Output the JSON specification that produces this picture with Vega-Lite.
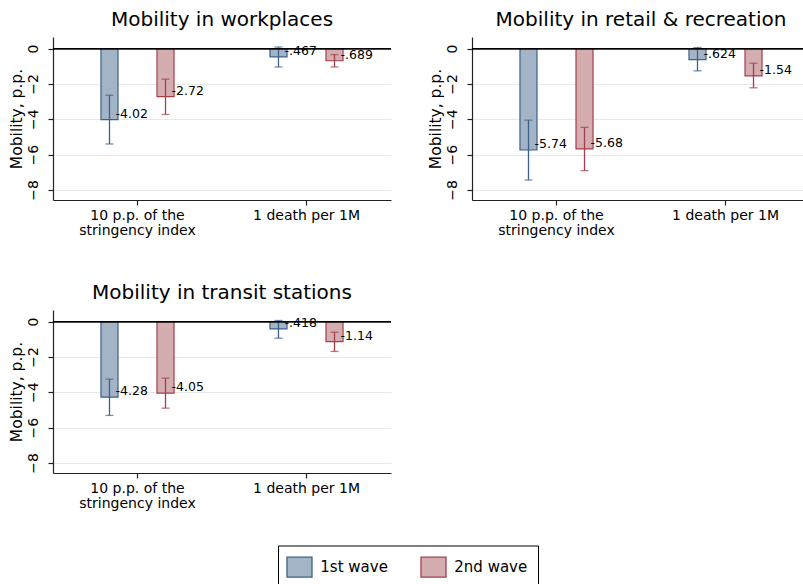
{
  "$schema": "https://vega.github.io/schema/vega-lite/v6.json",
  "background": "white",
  "padding": {"left": 9, "top": 10, "right": 0, "bottom": 0},
  "datasets": {
    "d": [
      {"panel": "workplaces", "factor": "10 p.p. of the stringency index", "wave": "1st wave", "value": -4.02, "lo": -5.40, "hi": -2.64, "label": "-4.02"},
      {"panel": "workplaces", "factor": "10 p.p. of the stringency index", "wave": "2nd wave", "value": -2.72, "lo": -3.73, "hi": -1.73, "label": "-2.72"},
      {"panel": "workplaces", "factor": "1 death per 1M", "wave": "1st wave", "value": -0.467, "lo": -1.04, "hi": 0.09, "label": "-.467"},
      {"panel": "workplaces", "factor": "1 death per 1M", "wave": "2nd wave", "value": -0.689, "lo": -1.04, "hi": -0.34, "label": "-.689"},
      {"panel": "retail", "factor": "10 p.p. of the stringency index", "wave": "1st wave", "value": -5.74, "lo": -7.44, "hi": -4.05, "label": "-5.74"},
      {"panel": "retail", "factor": "10 p.p. of the stringency index", "wave": "2nd wave", "value": -5.68, "lo": -6.91, "hi": -4.46, "label": "-5.68"},
      {"panel": "retail", "factor": "1 death per 1M", "wave": "1st wave", "value": -0.624, "lo": -1.26, "hi": 0.06, "label": "-.624"},
      {"panel": "retail", "factor": "1 death per 1M", "wave": "2nd wave", "value": -1.54, "lo": -2.22, "hi": -0.83, "label": "-1.54"},
      {"panel": "transit", "factor": "10 p.p. of the stringency index", "wave": "1st wave", "value": -4.28, "lo": -5.31, "hi": -3.26, "label": "-4.28"},
      {"panel": "transit", "factor": "10 p.p. of the stringency index", "wave": "2nd wave", "value": -4.05, "lo": -4.90, "hi": -3.20, "label": "-4.05"},
      {"panel": "transit", "factor": "1 death per 1M", "wave": "1st wave", "value": -0.418, "lo": -0.94, "hi": 0.06, "label": "-.418"},
      {"panel": "transit", "factor": "1 death per 1M", "wave": "2nd wave", "value": -1.14, "lo": -1.69, "hi": -0.60, "label": "-1.14"}
    ]
  },
  "columns": 2,
  "spacing": {"row": 110, "column": 81},
  "bounds": "flush",
  "concat": [
    {
      "title": "Mobility in workplaces",
      "width": 338, "height": 163,
      "data": {"name": "d"},
      "transform": [{"filter": "datum.panel == 'workplaces'"}],
      "layer": [
        {"mark": {"type": "bar", "strokeWidth": 1.2},
         "encoding": {
           "x": {"field": "factor", "type": "nominal", "title": null, "sort": ["10 p.p. of the stringency index", "1 death per 1M"], "scale": {"paddingInner": 0.337, "paddingOuter": 0.1685}},
           "xOffset": {"field": "wave", "type": "nominal", "scale": {"paddingInner": 0.696, "paddingOuter": 0.348}},
           "y": {"field": "value", "type": "quantitative", "title": "Mobility, p.p.", "scale": {"domain": [-8.57, 0.655], "nice": false, "zero": false}},
           "y2": {"datum": 0},
           "fill": {"field": "wave", "type": "nominal", "scale": {"domain": ["1st wave", "2nd wave"], "range": ["#a4b4c7", "#d4adb1"]}, "legend": {"title": null}},
           "stroke": {"field": "wave", "type": "nominal", "scale": {"domain": ["1st wave", "2nd wave"], "range": ["#3b6189", "#a23f49"]}, "legend": {"title": null}}
         }},
        {"mark": {"type": "rule", "strokeWidth": 1.3},
         "encoding": {
           "x": {"field": "factor", "type": "nominal", "title": null, "sort": ["10 p.p. of the stringency index", "1 death per 1M"]},
           "xOffset": {"field": "wave", "type": "nominal"},
           "y": {"field": "lo", "type": "quantitative", "title": "Mobility, p.p."},
           "y2": {"field": "hi"},
           "stroke": {"field": "wave", "type": "nominal", "legend": {"title": null}}
         }},
        {"mark": {"type": "tick", "size": 8, "thickness": 1.3},
         "encoding": {
           "x": {"field": "factor", "type": "nominal", "title": null, "sort": ["10 p.p. of the stringency index", "1 death per 1M"]},
           "xOffset": {"field": "wave", "type": "nominal"},
           "y": {"field": "lo", "type": "quantitative", "title": "Mobility, p.p."},
           "color": {"field": "wave", "type": "nominal", "scale": {"domain": ["1st wave", "2nd wave"], "range": ["#3b6189", "#a23f49"]}, "legend": null}
         }},
        {"mark": {"type": "tick", "size": 8, "thickness": 1.3},
         "encoding": {
           "x": {"field": "factor", "type": "nominal", "title": null, "sort": ["10 p.p. of the stringency index", "1 death per 1M"]},
           "xOffset": {"field": "wave", "type": "nominal"},
           "y": {"field": "hi", "type": "quantitative", "title": "Mobility, p.p."},
           "color": {"field": "wave", "type": "nominal", "legend": null}
         }},
        {"mark": {"type": "text", "align": "left", "baseline": "middle", "dx": 6, "dy": -6, "fontSize": 12.5, "font": "DejaVu Sans", "color": "black"},
         "encoding": {
           "x": {"field": "factor", "type": "nominal", "title": null, "sort": ["10 p.p. of the stringency index", "1 death per 1M"]},
           "xOffset": {"field": "wave", "type": "nominal"},
           "y": {"field": "value", "type": "quantitative", "title": "Mobility, p.p."},
           "text": {"field": "label"}
         }},
        {"mark": {"type": "rule", "color": "black", "strokeWidth": 1.3},
         "encoding": {"y": {"datum": 0, "type": "quantitative", "title": "Mobility, p.p."}}}
      ]
    },
    {
      "title": "Mobility in retail & recreation",
      "width": 338, "height": 163,
      "data": {"name": "d"},
      "transform": [{"filter": "datum.panel == 'retail'"}],
      "layer": [
        {"mark": {"type": "bar", "strokeWidth": 1.2},
         "encoding": {
           "x": {"field": "factor", "type": "nominal", "title": null, "sort": ["10 p.p. of the stringency index", "1 death per 1M"], "scale": {"paddingInner": 0.337, "paddingOuter": 0.1685}},
           "xOffset": {"field": "wave", "type": "nominal", "scale": {"paddingInner": 0.696, "paddingOuter": 0.348}},
           "y": {"field": "value", "type": "quantitative", "title": "Mobility, p.p.", "scale": {"domain": [-8.57, 0.655], "nice": false, "zero": false}},
           "y2": {"datum": 0},
           "fill": {"field": "wave", "type": "nominal", "legend": {"title": null}},
           "stroke": {"field": "wave", "type": "nominal", "legend": {"title": null}}
         }},
        {"mark": {"type": "rule", "strokeWidth": 1.3},
         "encoding": {
           "x": {"field": "factor", "type": "nominal", "title": null, "sort": ["10 p.p. of the stringency index", "1 death per 1M"]},
           "xOffset": {"field": "wave", "type": "nominal"},
           "y": {"field": "lo", "type": "quantitative", "title": "Mobility, p.p."},
           "y2": {"field": "hi"},
           "stroke": {"field": "wave", "type": "nominal", "legend": {"title": null}}
         }},
        {"mark": {"type": "tick", "size": 8, "thickness": 1.3},
         "encoding": {
           "x": {"field": "factor", "type": "nominal", "title": null, "sort": ["10 p.p. of the stringency index", "1 death per 1M"]},
           "xOffset": {"field": "wave", "type": "nominal"},
           "y": {"field": "lo", "type": "quantitative", "title": "Mobility, p.p."},
           "color": {"field": "wave", "type": "nominal", "legend": null}
         }},
        {"mark": {"type": "tick", "size": 8, "thickness": 1.3},
         "encoding": {
           "x": {"field": "factor", "type": "nominal", "title": null, "sort": ["10 p.p. of the stringency index", "1 death per 1M"]},
           "xOffset": {"field": "wave", "type": "nominal"},
           "y": {"field": "hi", "type": "quantitative", "title": "Mobility, p.p."},
           "color": {"field": "wave", "type": "nominal", "legend": null}
         }},
        {"mark": {"type": "text", "align": "left", "baseline": "middle", "dx": 6, "dy": -6, "fontSize": 12.5, "font": "DejaVu Sans", "color": "black"},
         "encoding": {
           "x": {"field": "factor", "type": "nominal", "title": null, "sort": ["10 p.p. of the stringency index", "1 death per 1M"]},
           "xOffset": {"field": "wave", "type": "nominal"},
           "y": {"field": "value", "type": "quantitative", "title": "Mobility, p.p."},
           "text": {"field": "label"}
         }},
        {"mark": {"type": "rule", "color": "black", "strokeWidth": 1.3},
         "encoding": {"y": {"datum": 0, "type": "quantitative", "title": "Mobility, p.p."}}}
      ]
    },
    {
      "title": "Mobility in transit stations",
      "width": 338, "height": 163,
      "data": {"name": "d"},
      "transform": [{"filter": "datum.panel == 'transit'"}],
      "layer": [
        {"mark": {"type": "bar", "strokeWidth": 1.2},
         "encoding": {
           "x": {"field": "factor", "type": "nominal", "title": null, "sort": ["10 p.p. of the stringency index", "1 death per 1M"], "scale": {"paddingInner": 0.337, "paddingOuter": 0.1685}},
           "xOffset": {"field": "wave", "type": "nominal", "scale": {"paddingInner": 0.696, "paddingOuter": 0.348}},
           "y": {"field": "value", "type": "quantitative", "title": "Mobility, p.p.", "scale": {"domain": [-8.57, 0.655], "nice": false, "zero": false}},
           "y2": {"datum": 0},
           "fill": {"field": "wave", "type": "nominal", "legend": {"title": null}},
           "stroke": {"field": "wave", "type": "nominal", "legend": {"title": null}}
         }},
        {"mark": {"type": "rule", "strokeWidth": 1.3},
         "encoding": {
           "x": {"field": "factor", "type": "nominal", "title": null, "sort": ["10 p.p. of the stringency index", "1 death per 1M"]},
           "xOffset": {"field": "wave", "type": "nominal"},
           "y": {"field": "lo", "type": "quantitative", "title": "Mobility, p.p."},
           "y2": {"field": "hi"},
           "stroke": {"field": "wave", "type": "nominal", "legend": {"title": null}}
         }},
        {"mark": {"type": "tick", "size": 8, "thickness": 1.3},
         "encoding": {
           "x": {"field": "factor", "type": "nominal", "title": null, "sort": ["10 p.p. of the stringency index", "1 death per 1M"]},
           "xOffset": {"field": "wave", "type": "nominal"},
           "y": {"field": "lo", "type": "quantitative", "title": "Mobility, p.p."},
           "color": {"field": "wave", "type": "nominal", "legend": null}
         }},
        {"mark": {"type": "tick", "size": 8, "thickness": 1.3},
         "encoding": {
           "x": {"field": "factor", "type": "nominal", "title": null, "sort": ["10 p.p. of the stringency index", "1 death per 1M"]},
           "xOffset": {"field": "wave", "type": "nominal"},
           "y": {"field": "hi", "type": "quantitative", "title": "Mobility, p.p."},
           "color": {"field": "wave", "type": "nominal", "legend": null}
         }},
        {"mark": {"type": "text", "align": "left", "baseline": "middle", "dx": 6, "dy": -6, "fontSize": 12.5, "font": "DejaVu Sans", "color": "black"},
         "encoding": {
           "x": {"field": "factor", "type": "nominal", "title": null, "sort": ["10 p.p. of the stringency index", "1 death per 1M"]},
           "xOffset": {"field": "wave", "type": "nominal"},
           "y": {"field": "value", "type": "quantitative", "title": "Mobility, p.p."},
           "text": {"field": "label"}
         }},
        {"mark": {"type": "rule", "color": "black", "strokeWidth": 1.3},
         "encoding": {"y": {"datum": 0, "type": "quantitative", "title": "Mobility, p.p."}}}
      ]
    }
  ],
  "config": {
    "font": "DejaVu Sans",
    "view": {"stroke": null},
    "title": {"font": "DejaVu Sans", "fontSize": 20, "fontWeight": "normal", "color": "black", "anchor": "middle", "frame": "group", "baseline": "alphabetic", "offset": 7},
    "axis": {"labelFont": "DejaVu Sans", "titleFont": "DejaVu Sans", "labelColor": "black", "titleColor": "black", "titleFontWeight": "normal", "domainColor": "#222222", "tickColor": "#222222", "domainWidth": 1.2, "tickWidth": 1.2},
    "axisY": {"labelAngle": -90, "labelAlign": "center", "labelBaseline": "alphabetic", "labelPadding": 11, "tickSize": 5, "labelFontSize": 14, "titleFontSize": 15.5, "titlePadding": 2, "tickCount": 5, "grid": true, "gridColor": "#e8e8e8", "gridWidth": 1.2},
    "axisX": {"labelAngle": 0, "labelFontSize": 14, "tickSize": 5, "labelPadding": 3, "labelLineHeight": 15, "labelBaseline": "top", "grid": false,
      "labelExpr": "datum.label == '10 p.p. of the stringency index' ? ['10 p.p. of the', 'stringency index'] : datum.label"},
    "legend": {"orient": "none", "legendX": 225, "legendY": 508.5, "direction": "horizontal", "columns": 2, "strokeColor": "black", "padding": 10.5,
      "symbolType": "M-1.25,-1H1.25V1H-1.25Z", "symbolSize": 400, "symbolStrokeWidth": 1.3,
      "labelFont": "DejaVu Sans", "labelFontSize": 15, "labelColor": "black", "labelOffset": 9.8, "columnPadding": 29}
  }
}
